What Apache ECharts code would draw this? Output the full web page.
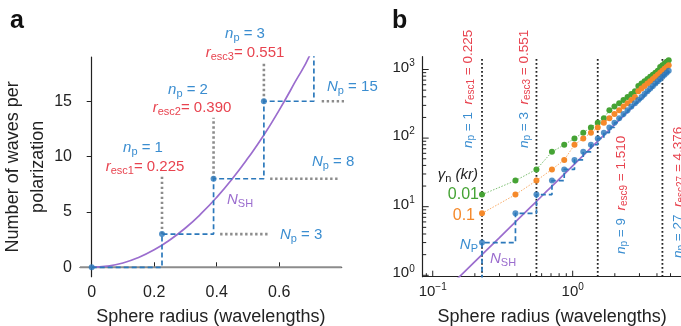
<!DOCTYPE html>
<html><head><meta charset="utf-8">
<script src="https://cdn.jsdelivr.net/npm/echarts@6/dist/echarts.min.js"></script>
<style>html,body{margin:0;padding:0;background:#fff}#c{width:681px;height:326px}</style>
</head><body><div id="c"></div>
<script>
// ---------------- data ----------------
const escIndex = [1,2,3,4,5,6,7,8,9,10,11,12,13,14,15,16,17,18,19,20,21,22,23,24,25,26,27,28,29,30];
const escRadius = [0.225,0.390,0.551,0.711,0.870,1.030,1.190,1.350,1.510,1.670,1.829,1.988,2.148,2.307,2.466,2.625,2.785,2.944,3.103,3.262,3.421,3.580,3.740,3.899,4.058,4.217,4.376,4.535,4.694,4.853];
const npCount = [3,8,15,24,35,48,63,80,99,120,143,168,195,224,255,288,323,360,399,440,483,528,575,624,675,728,783,840,899,960];
const gamma001Count = [15,24,35,63,80,99,120,143,168,195,255,288,323,360,399,440,483,575,624,675,728,783,840,899,960,1088,1155,1224,1295,1368];
const gamma01Count = [8,15,24,35,48,80,99,120,143,168,195,224,255,288,323,360,399,483,528,575,624,675,728,783,840,899,960,1023,1088,1155];
const nshRadius = [0,0.05,0.1,0.15,0.2,0.25,0.3,0.35,0.4,0.45,0.5,0.55,0.6,0.65,0.7,1.0,2.0,3.0,4.0,4.85];
const nshValue  = [0,0.1,0.39,0.89,1.58,2.47,3.55,4.84,6.32,8.0,9.87,11.9,14.2,16.7,19.3,39.5,158,355,632,929];
// panel a leader lines
const aLeaderTop = [8.35,13.5,18.5];          // top of grey dotted verticals at r_esc1..3
const aLeaderXFrom = [0.411,0.571,0.736];     // grey dotted horizontals at N_p = 3, 8, 15
const aLeaderXTo = [0.571,0.790,0.843];
// panel b marked escape radii
const markedN = [1,3,9,27];
const markedR = [0.225,0.551,1.510,4.376];
// ticks
const aXTicks = [0,0.2,0.4,0.6];
const aYTicks = [0,5,10,15];
const bXMajor = [0.1,1];
const bXMinor = [0.09,0.2,0.3,0.4,0.5,0.6,0.7,0.8,0.9,2,3,4,5];
const bYMajor = [1,10,100,1000];
const bYMinor = [2,3,4,5,6,7,8,9,20,30,40,50,60,70,80,90,200,300,400,500,600,700,800,900];

// ---------------- style ----------------
const FONT = '"Liberation Sans", Arial, sans-serif';
const BLUE = '#2b78bb', BLUE_T = '#3a8dd0', RED = '#e8434f', PURPLE = '#9b6dce', GREEN = '#45a334', ORANGE = '#f5892a', GREY = '#8c8c8c', INK = '#222';
const A = {xMin:-0.0374, xMax:0.8, yMin:-0.85, yMax:19.0};
const B = {xMin:0.0848, xMax:6, yMin:0.954, yMax:1537};

function R(color, size, pre){
  const o = {};
  o[pre+'i'] = {fontStyle:'italic', fontSize:size, fill:color, color, fontFamily:FONT};
  o[pre+'s'] = {fontSize:Math.round(size*0.72), fill:color, color, fontFamily:FONT, padding:[Math.round(size*0.5),0,0,0]};
  o[pre+'t'] = {fontSize:size, fill:color, color, fontFamily:FONT};
  return o;
}
const richAll = Object.assign({}, R(BLUE_T,15,'b'), R(RED,15,'r'), R(PURPLE,15,'p'), R(INK,15,'k'), R(GREEN,16,'g'), R(ORANGE,16,'o'),
                              R(BLUE_T,13.5,'B'), R(RED,13.5,'Q'));
const tickRich = {m:{fontSize:15, fontFamily:FONT, fill:INK, color:INK}, e:{fontSize:10, fontFamily:FONT, fill:INK, color:INK, padding:[0,0,9,0]}};

// ---------------- derived series data ----------------
const aStairs = [[0,0]];
let prev = 0;
for (let i = 0; i < 4; i++) { aStairs.push([escRadius[i], prev]); aStairs.push([escRadius[i], npCount[i]]); prev = npCount[i]; }
const aDots = [[0,0]].concat(escRadius.slice(0,3).map((r,i)=>[r,npCount[i]]));
const aNsh = nshRadius.map((r,i)=>[r,nshValue[i]]);
const bStairs = [[escRadius[0], B.yMin*0.9]];
for (let i = 0; i < escRadius.length; i++) {
  if (i > 0) bStairs.push([escRadius[i], npCount[i-1]]);
  bStairs.push([escRadius[i], npCount[i]]);
}
const bNp = escRadius.map((r,i)=>[r,npCount[i]]);
const bG1 = escRadius.map((r,i)=>[r,gamma001Count[i]]);
const bG2 = escRadius.map((r,i)=>[r,gamma01Count[i]]);
const bNsh = nshRadius.map((r,i)=>[r,nshValue[i]]).filter(p=>p[0]>0);

const series = [];
// panel a
series.push({type:'line', xAxisIndex:0, yAxisIndex:0, data:[[A.xMin,0],[A.xMax,0]], symbol:'none', lineStyle:{color:GREY, width:2}, z:1});
for (let i = 0; i < 3; i++) {
  series.push({type:'line', xAxisIndex:0, yAxisIndex:0, clip:false, data:[[escRadius[i], npCount[i]],[escRadius[i], aLeaderTop[i]]], symbol:'none', lineStyle:{color:GREY, width:2.6, type:[2.4,2.6]}, z:2});
  series.push({type:'line', xAxisIndex:0, yAxisIndex:0, clip:false, data:[[aLeaderXFrom[i], npCount[i]],[aLeaderXTo[i], npCount[i]]], symbol:'none', lineStyle:{color:GREY, width:2.6, type:[2.4,2.6]}, z:2});
}
series.push({type:'line', xAxisIndex:0, yAxisIndex:0, data:aNsh, symbol:'none', smooth:true, lineStyle:{color:PURPLE, width:1.7}, z:3});
series.push({type:'line', xAxisIndex:0, yAxisIndex:0, data:aStairs, symbol:'none', lineStyle:{color:BLUE, width:1.7, type:[5,3]}, z:4});
series.push({type:'scatter', xAxisIndex:0, yAxisIndex:0, data:aDots, symbolSize:6, itemStyle:{color:BLUE}, z:5});
// panel b
markedR.forEach(r => series.push({type:'line', xAxisIndex:1, yAxisIndex:1, data:[[r,B.yMin],[r,B.yMax]], symbol:'none', lineStyle:{color:INK, width:1.8, type:[1.8,2.2]}, z:1}));
series.push({type:'line', xAxisIndex:1, yAxisIndex:1, data:bG1, symbol:'circle', symbolSize:6, itemStyle:{color:GREEN}, lineStyle:{color:GREEN, width:1, type:[1.5,1.5], opacity:0.7}, z:3});
series.push({type:'line', xAxisIndex:1, yAxisIndex:1, data:bG2, symbol:'circle', symbolSize:6, itemStyle:{color:ORANGE}, lineStyle:{color:ORANGE, width:1, type:[1.5,1.5], opacity:0.7}, z:3});
series.push({type:'line', xAxisIndex:1, yAxisIndex:1, data:bNsh, symbol:'none', lineStyle:{color:PURPLE, width:1.7}, z:4});
series.push({type:'line', xAxisIndex:1, yAxisIndex:1, data:bStairs, symbol:'none', lineStyle:{color:BLUE, width:1.7, type:[5,3]}, z:5});
series.push({type:'scatter', xAxisIndex:1, yAxisIndex:1, data:bNp, symbolSize:6, itemStyle:{color:BLUE}, z:6});
// panel b ticks + labels (log axes)
function expText(v){ const e = Math.round(Math.log10(v)); return '{m|10}{e|' + (e < 0 ? '\u2212' + (-e) : e) + '}'; }
series.push({type:'custom', xAxisIndex:1, yAxisIndex:1, clip:false, silent:true, z:10,
  data: bXMajor.map(v=>[v,10,1]).concat(bXMinor.map(v=>[v,10,0])),
  renderItem(params, api){
    const cs = params.coordSys, v = api.value(0), major = api.value(2);
    const x = api.coord([v,10])[0], yb = cs.y + cs.height;
    const ch = [{type:'line', shape:{x1:x,y1:yb,x2:x,y2:yb-(major?6:3.5)}, style:{stroke:INK, lineWidth:1}}];
    if (major) ch.push({type:'text', x:x, y:yb+15, style:{text:expText(v), rich:tickRich, align:'center', verticalAlign:'middle'}});
    return {type:'group', children:ch};
  }});
series.push({type:'custom', xAxisIndex:1, yAxisIndex:1, clip:false, silent:true, z:10,
  data: bYMajor.map(v=>[1,v,1]).concat(bYMinor.map(v=>[1,v,0])),
  renderItem(params, api){
    const cs = params.coordSys, v = api.value(1), major = api.value(2);
    const y = api.coord([1,v])[1], xl = cs.x;
    const ch = [{type:'line', shape:{x1:xl,y1:y,x2:xl+(major?6:3.5),y2:y}, style:{stroke:INK, lineWidth:1}}];
    if (major) ch.push({type:'text', x:xl-8, y:y-2, style:{text:expText(v), rich:tickRich, align:'right', verticalAlign:'middle'}});
    return {type:'group', children:ch};
  }});

function txt(x, y, text, align, rot){
  return {type:'text', x, y, rotation: rot||0, z:100, style:{text, rich:richAll, align:align||'center', verticalAlign:'middle'}};
}
function vlabel(n, r){
  return '{Bi|n}{Bs|p}{Bt| = ' + n + '}{Bt|  }{Qi|r}{Qs|esc' + n + '}{Qt| = ' + r.toFixed(3) + '}';
}
const graphic = [
  {type:'text', x:10, y:21.5, style:{text:'a', fontSize:25, fontWeight:'bold', fontFamily:FONT, fill:'#111', align:'left', verticalAlign:'middle'}},
  {type:'text', x:392, y:21.5, style:{text:'b', fontSize:25, fontWeight:'bold', fontFamily:FONT, fill:'#111', align:'left', verticalAlign:'middle'}},
  // panel a annotations
  txt(143,148,'{bi|n}{bs|p}{bt| = 1}'),
  txt(145,167,'{ri|r}{rs|esc1}{rt|= 0.225}'),
  txt(188,90,'{bi|n}{bs|p}{bt| = 2}'),
  txt(192,108,'{ri|r}{rs|esc2}{rt|= 0.390}'),
  txt(245,34,'{bi|n}{bs|p}{bt| = 3}'),
  txt(245,53,'{ri|r}{rs|esc3}{rt|= 0.551}'),
  txt(280,235,'{bi|N}{bs|p}{bt| = 3}','left'),
  txt(312,162,'{bi|N}{bs|p}{bt| = 8}','left'),
  txt(327,87,'{bi|N}{bs|p}{bt| = 15}','left'),
  txt(227,200,'{pi|N}{ps|SH}','left'),
  // panel b annotations
  txt(468,148,vlabel(markedN[0],markedR[0]),'left',Math.PI/2),
  txt(524,148,vlabel(markedN[1],markedR[1]),'left',Math.PI/2),
  txt(621,254,vlabel(markedN[2],markedR[2]),'left',Math.PI/2),
  txt(678,258,vlabel(markedN[3],markedR[3]),'left',Math.PI/2),
  txt(478,175,'{ki|\u03b3}{ks|n}{ki| (kr)}','right'),
  txt(479,195,'{gt|0.01}','right'),
  txt(475,216,'{ot|0.1}','right'),
  txt(478,245,'{bi|N}{bs|P}','right'),
  txt(490,259,'{pi|N}{ps|SH}','left')
];

const axisLineStyle = {color:INK, width:1.2};
const nameStyle = {fontSize:18, fontFamily:FONT, color:INK};
const option = {
  animation:false,
  backgroundColor:'#fff',
  grid:[
    {left:80, top:57, width:261.7, height:219.7, containLabel:false, outerBoundsMode:'none'},
    {left:422.7, top:56.7, width:258.9, height:220, containLabel:false, outerBoundsMode:'none'}
  ],
  xAxis:[
    {type:'value', gridIndex:0, min:A.xMin, max:A.xMax, axisLine:{lineStyle:axisLineStyle},
     axisTick:{customValues:aXTicks, inside:true, length:5, lineStyle:{color:INK}},
     axisLabel:{customValues:aXTicks, fontSize:16, fontFamily:FONT, color:INK, margin:8},
     splitLine:{show:false}, name:'Sphere radius (wavelengths)', nameLocation:'middle', nameGap:31, nameTextStyle:nameStyle},
    {type:'log', logBase:10, gridIndex:1, min:B.xMin, max:B.xMax, axisLine:{lineStyle:axisLineStyle},
     axisTick:{show:false}, axisLabel:{show:false}, splitLine:{show:false}, minorTick:{show:false},
     name:'Sphere radius (wavelengths)', nameLocation:'middle', nameGap:31, nameTextStyle:nameStyle}
  ],
  yAxis:[
    {type:'value', gridIndex:0, min:A.yMin, max:A.yMax, axisLine:{show:true, lineStyle:axisLineStyle},
     axisTick:{show:true, customValues:aYTicks, inside:false, length:5, lineStyle:{color:INK}},
     axisLabel:{customValues:aYTicks, fontSize:16, fontFamily:FONT, color:INK, margin:8},
     splitLine:{show:false}, name:'Number of waves per\npolarization', nameLocation:'middle', nameRotate:90, nameGap:19,
     nameTextStyle:Object.assign({}, nameStyle, {lineHeight:25})},
    {type:'log', logBase:10, gridIndex:1, min:B.yMin, max:B.yMax, axisLine:{show:true, lineStyle:axisLineStyle},
     axisTick:{show:false}, axisLabel:{show:false}, splitLine:{show:false}, minorTick:{show:false}}
  ],
  series, graphic
};
const chart = echarts.init(document.getElementById('c'), null, {renderer:'canvas'});
chart.setOption(option);
</script></body></html>
